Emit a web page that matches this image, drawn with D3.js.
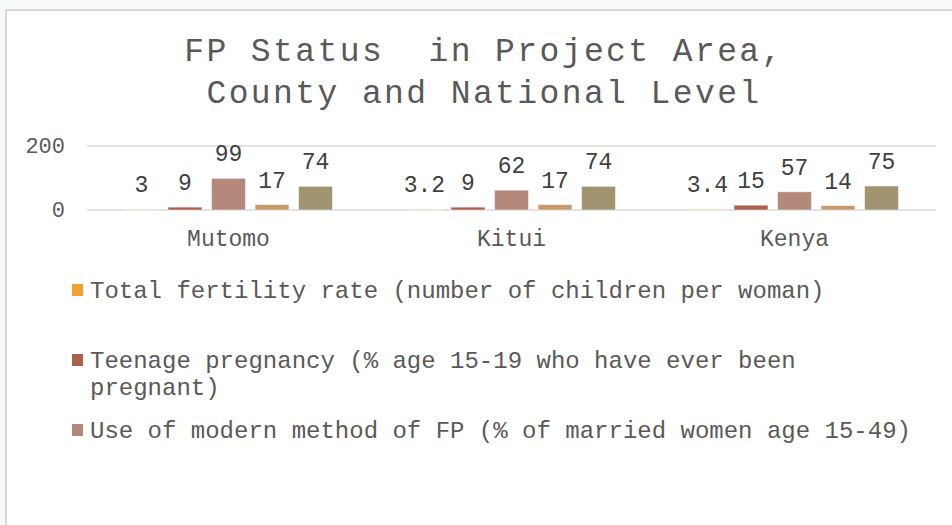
<!DOCTYPE html>
<html>
<head>
<meta charset="utf-8">
<title>FP Status</title>
<script src="https://d3js.org/d3.v7.min.js"></script>
<style>
  html, body { margin: 0; padding: 0; background: #ffffff; }
  svg { display: block; }
  svg text { white-space: pre; }
</style>
</head>
<body>
<div id="chart"></div>
<script>
// data
const categories = ["Mutomo", "Kitui", "Kenya"];
const seriesNames = [
  "Total fertility rate (number of children per woman)",
  "Teenage pregnancy (% age 15-19 who have ever been pregnant)",
  "Use of modern method of FP (% of married women age 15-49)",
  "Series 4",
  "Series 5"
];
const fertilityRate = [3, 3.2, 3.4];
const teenPregnancy = [9, 9, 15];
const modernMethod = [99, 62, 57];
const series4 = [17, 17, 14];
const series5 = [74, 74, 75];
const seriesColors = ["#f2a12e", "#a8614b", "#b5887c", "#c9996b", "#a09471"];
const yTicks = [0, 200];
const titleLines = ["FP Status  in Project Area,", "County and National Level"];

const allSeries = [fertilityRate, teenPregnancy, modernMethod, series4, series5];
const legendShown = 3; // the legend box is cut off after three entries

const W = 952, H = 525;
const font = "'Liberation Mono', 'Courier New', monospace";
const textColor = "#595959";

const svg = d3.select("#chart").append("svg")
  .attr("width", W).attr("height", H);

// page background around the chart frame
svg.append("rect").attr("x", 0).attr("y", 0).attr("width", W).attr("height", H).attr("fill", "#f6fafa");

// chart frame
svg.append("rect")
  .attr("x", 6).attr("y", 10).attr("width", W + 20).attr("height", H + 20)
  .attr("fill", "#fff").attr("stroke", "#d9d9d9").attr("stroke-width", 2);

// title
svg.append("g").selectAll("text")
  .data(titleLines).enter().append("text")
  .attr("x", 484).attr("y", (d, i) => 61 + i * 42)
  .attr("text-anchor", "middle")
  .attr("font-family", font).attr("font-size", 33).attr("letter-spacing", 2.4)
  .attr("fill", textColor)
  .text(d => d);

// scales
const x0 = d3.scaleBand().domain(categories).range([87, 936]);
const x1 = d3.scaleBand().domain(d3.range(allSeries.length))
  .range([37.5, x0.bandwidth() - 37.5]).paddingInner(0.22);
const y = d3.scaleLinear().domain([0, 200]).range([210, 146]);

// gridlines
svg.append("g").selectAll("line")
  .data(yTicks).enter().append("line")
  .attr("x1", 87).attr("x2", 936)
  .attr("y1", d => y(d)).attr("y2", d => y(d))
  .attr("stroke", "#d9d9d9").attr("stroke-width", 1.5);

// y labels
svg.append("g").selectAll("text")
  .data(yTicks).enter().append("text")
  .attr("x", 65).attr("y", d => y(d) + 7)
  .attr("text-anchor", "end")
  .attr("font-family", font).attr("font-size", 22)
  .attr("fill", textColor)
  .text(d => d);

// bars
const groups = svg.append("g").selectAll("g")
  .data(categories).enter().append("g")
  .attr("transform", d => "translate(" + x0(d) + ",0)");

groups.selectAll("rect")
  .data((c, ci) => allSeries.map((s, si) => ({ si, v: s[ci] })))
  .enter().append("rect")
  .attr("x", d => x1(d.si))
  .attr("y", d => y(d.v))
  .attr("width", x1.bandwidth())
  .attr("height", d => y(0) - y(d.v))
  .attr("fill", d => seriesColors[d.si])
  .attr("fill-opacity", d => d.si == 0 ? 0.35 : 1)
  .attr("stroke", "#fff").attr("stroke-opacity", 0.5).attr("stroke-width", 1);

// data labels
groups.selectAll("text")
  .data((c, ci) => allSeries.map((s, si) => ({ si, v: s[ci] })))
  .enter().append("text")
  .attr("x", d => x1(d.si) + x1.bandwidth() / 2)
  .attr("y", d => y(d.v) - 17)
  .attr("text-anchor", "middle")
  .attr("font-family", font).attr("font-size", 23)
  .attr("fill", "#404040")
  .text(d => d.v);

// category labels
svg.append("g").selectAll("text")
  .data(categories).enter().append("text")
  .attr("x", d => x0(d) + x0.bandwidth() / 2)
  .attr("y", 246)
  .attr("text-anchor", "middle")
  .attr("font-family", font).attr("font-size", 23)
  .attr("fill", textColor)
  .text(d => d);

// legend
const legend = svg.append("g").selectAll("g")
  .data(seriesNames.slice(0, legendShown)).enter().append("g")
  .attr("transform", (d, i) => "translate(0," + (298 + i * 70) + ")");

legend.append("rect")
  .attr("x", 72).attr("y", -14).attr("width", 11).attr("height", 12)
  .attr("fill", (d, i) => seriesColors[i]);

legend.each(function(name) {
  const g = d3.select(this);
  const words = name.split(" ");
  let line = [], lineNo = 0;
  let t = g.append("text").attr("x", 90).attr("y", 0)
    .attr("font-family", font).attr("font-size", 24).attr("fill", textColor);
  for (const w of words) {
    line.push(w);
    t.text(line.join(" "));
    if (t.node().getComputedTextLength() > 835 && line.length > 1) {
      line.pop();
      t.text(line.join(" "));
      line = [w];
      lineNo++;
      t = g.append("text").attr("x", 90).attr("y", lineNo * 27)
        .attr("font-family", font).attr("font-size", 24).attr("fill", textColor)
        .text(w);
    }
  }
});
</script>
</body>
</html>
